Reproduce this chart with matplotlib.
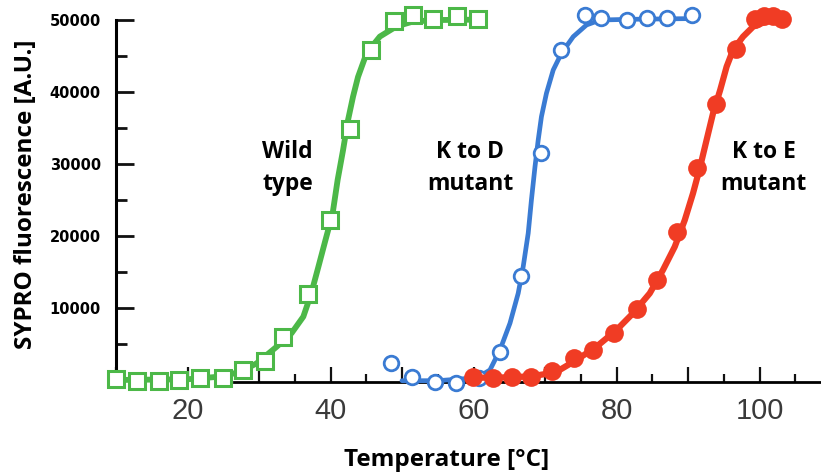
import matplotlib
matplotlib.use("Agg")
import matplotlib.pyplot as plt
from matplotlib.ticker import FixedLocator, FixedFormatter

# ---------------- data ----------------
wt_T = [10.0, 12.9, 16.0, 18.8, 21.7, 24.9, 27.8, 30.8, 33.4, 36.8, 39.9, 42.7,
        45.6, 48.9, 51.5, 54.3, 57.7, 60.6]
wt_F = [100, -100, -100, 0, 250, 250, 1400, 2700, 6000, 12000, 22200, 34800,
        45900, 49900, 50700, 50200, 50600, 50200]

kd_T = [48.5, 51.4, 54.6, 57.6, 60.7, 63.7, 66.7, 69.5, 72.3, 75.6, 77.9, 81.5,
        84.3, 87.1, 90.6]
kd_F = [2300, 400, -300, -400, 300, 3900, 14400, 31500, 45800, 50700, 50300,
        50000, 50300, 50300, 50700]

ke_T = [59.9, 62.7, 65.4, 68.1, 71.0, 74.0, 76.7, 79.6, 82.8, 85.6, 88.4, 91.3,
        93.9, 96.7, 99.3, 100.6, 101.9, 103.2]
ke_F = [400, 300, 350, 450, 1200, 3050, 4200, 6500, 9900, 13900, 20600, 29400,
        38400, 46000, 50100, 50600, 50500, 50200]

# fitted curves
wt_fit_T = [10.0, 20.0, 25.0, 27.5, 29.65, 32.45, 34.55, 36.2, 37.3, 38.3, 39.3,
            40.3, 41.0, 41.75, 42.45, 43.15, 43.85, 45.05, 46.9, 49.2, 51.55,
            55.0, 60.6]
wt_fit_F = [0, 100, 500, 1200, 2300, 4600, 6500, 8800, 12000, 15700, 19450,
            23150, 27800, 31900, 36100, 39350, 42100, 45400, 47700, 49100, 49800,
            50000, 50050]

kd_fit_T = [50.0, 55.0, 59.0, 61.0, 62.3, 63.7, 65.1, 66.25, 66.95, 67.65, 68.1,
            68.6, 69.05, 69.5, 70.2, 71.15, 72.3, 73.95, 75.8, 77.7, 82.0, 90.6]
kd_fit_F = [-100, -100, 200, 600, 1390, 4170, 7880, 12040, 15740, 20380, 25000,
            29630, 33340, 36570, 39820, 43060, 45380, 47690, 49310, 50000, 50100,
            50200]

ke_fit_T = [59.5, 64.0, 68.0, 70.5, 72.05, 74.4, 77.2, 80.0, 82.3, 84.65, 86.5,
            88.15, 89.55, 90.7, 91.7, 92.6, 93.5, 94.5, 95.4, 96.3, 97.7, 99.1,
            101.45, 103.8]
ke_fit_F = [300, 350, 500, 900, 1390, 2780, 4630, 6940, 9260, 12040, 15280,
            18520, 22220, 25930, 29630, 33340, 37040, 40280, 43520, 45840, 47690,
            49070, 50000, 50230]

x_major = [10, 20, 30, 40, 50, 60, 70, 80, 90, 100]
x_major_labels = ["", "20", "", "40", "", "60", "", "80", "", "100"]
x_minor = [15, 25, 35, 45, 55, 65, 75, 85, 95, 105]
y_major = [10000, 20000, 30000, 40000, 50000]
y_major_labels = ["10000", "20000", "30000", "40000", "50000"]
y_minor = [5000, 15000, 25000, 35000, 45000]

labels = ["Wild", "type", "K to D", "mutant", "K to E", "mutant"]

# ---------------- figure ----------------
W, H = 821, 473
fig = plt.figure(figsize=(W / 100, H / 100), dpi=100)
ax = fig.add_axes([116 / W, (H - 382) / H, 705 / W, 382 / H])
ax.set_xlim(10, 108.6)
ax.set_ylim(-280, 52780)

green = "#4cb848"
blue = "#3a7bd3"
red = "#f03c24"

ax.plot(wt_fit_T, wt_fit_F, color=green, lw=4.2, zorder=3, clip_on=False,
        solid_capstyle="round")
ax.plot(wt_T, wt_F, ls="none", marker="s", ms=11.5, mew=2.2, mec=green,
        mfc="white", zorder=4, clip_on=False)

ax.plot(kd_fit_T, kd_fit_F, color=blue, lw=3.4, zorder=5, clip_on=False,
        solid_capstyle="round")
ax.plot(kd_T, kd_F, ls="none", marker="o", ms=10.5, mew=2.0, mec=blue,
        mfc="white", zorder=6, clip_on=False)

ax.plot(ke_fit_T, ke_fit_F, color=red, lw=4.5, zorder=7, clip_on=False,
        solid_capstyle="round")
ax.plot(ke_T, ke_F, ls="none", marker="o", ms=13.5, mew=0, mfc=red,
        zorder=8, clip_on=False)

# spines
for s in ["top", "right"]:
    ax.spines[s].set_visible(False)
ax.spines["left"].set_linewidth(2.2)
ax.spines["bottom"].set_linewidth(2.0)
ax.spines["left"].set_bounds(-280, 50000)
ax.spines["bottom"].set_bounds(26.5, 108.6)
ax.spines["left"].set_zorder(2.5)
ax.spines["bottom"].set_zorder(2.5)

# ticks
ax.xaxis.set_major_locator(FixedLocator(x_major))
ax.xaxis.set_major_formatter(FixedFormatter(x_major_labels))
ax.xaxis.set_minor_locator(FixedLocator(x_minor))
ax.yaxis.set_major_locator(FixedLocator(y_major))
ax.yaxis.set_major_formatter(FixedFormatter(y_major_labels))
ax.yaxis.set_minor_locator(FixedLocator(y_minor))

ax.tick_params(axis="x", which="major", direction="in", length=10.5, width=1.6,
               pad=11, labelsize=21, labelcolor="#3a3a3a", color="#111111")
ax.tick_params(axis="x", which="minor", direction="in", length=5.8, width=1.6,
               color="#111111")
ax.tick_params(axis="y", which="major", direction="in", length=13, width=2.0,
               pad=11, labelsize=10.5, color="#111111")
ax.tick_params(axis="y", which="minor", direction="in", length=8, width=2.0,
               color="#111111")
for t in ax.get_xticklabels():
    t.set_fontfamily("Liberation Sans")
for t in ax.get_yticklabels():
    t.set_fontfamily("DejaVu Sans")
    t.set_fontweight("bold")

# axis labels
fig.text(447 / W, 1 - 466 / H, "Temperature [°C]", ha="center", va="baseline",
         fontsize=17.5, fontweight="bold", family="Open Sans")
fig.text(26 / W, 1 - 194 / H, "SYPRO fluorescence [A.U.]", ha="center",
         va="center", rotation=90, fontsize=17.5, fontweight="bold",
         family="Open Sans")

# annotations (baselines)
ann_x = [34.0, 34.0, 59.5, 59.5, 100.6, 100.6]
ann_y = [30840, 26390, 30840, 26390, 30840, 26390]
for txt, x, y in zip(labels, ann_x, ann_y):
    ax.text(x, y, txt, ha="center", va="baseline", fontsize=16.5,
            fontweight="bold", family="Open Sans", zorder=10)

fig.savefig("out.png", dpi=100)
